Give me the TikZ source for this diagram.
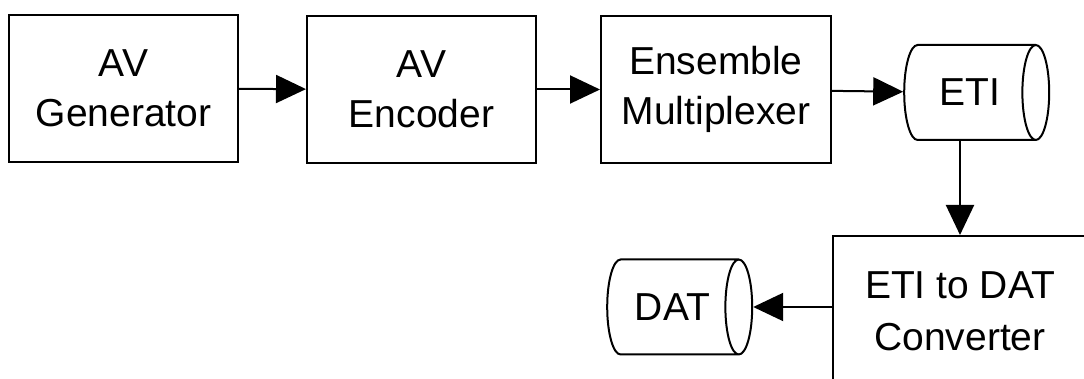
\documentclass[tikz,border=0pt]{standalone}
\usepackage{fontspec}
\setmainfont{Liberation Sans}
\usetikzlibrary{shapes.geometric,arrows.meta,positioning}

\begin{document}
\begin{tikzpicture}[x=0.5pt,y=-0.5pt,
    block/.style={draw, line width=1pt, minimum width=114.5pt, minimum height=73.5pt,
      inner sep=0pt, align=center, font=\fontsize{19.5}{25}\selectfont},
    tape/.style={draw, line width=1pt, cylinder, shape aspect=1,
      minimum height=72.5pt, minimum width=47.5pt, inner sep=0pt,
      font=\fontsize{19.5}{25}\selectfont},
    flow/.style={-{Triangle[length=15pt,width=14pt]}, line width=1pt}]
  \useasboundingbox (0,0) rectangle (1084,379);
  \clip (0,0) rectangle (1084,379);
  % top row
  \node[block] (gen) at (123.5,88.5) {AV\\Generator};
  \node[block] (enc) at (421.5,89.5) {AV\\Encoder};
  \node[block, minimum width=115pt] (mux) at (716,89.5) {Ensemble\\Multiplexer};
  \node[tape] (eti) at (969.5,92.5) {ETI};
  % bottom row
  \node[block, minimum width=127pt, minimum height=75pt] (conv) at (960,311) {ETI to DAT\\[1pt]Converter};
  \node[tape] (dat) at (672.5,307) {DAT};
  \draw[flow] (gen) -- (enc);
  \draw[flow] (enc) -- (mux);
  \draw[flow] (mux) -- (eti);
  \draw[flow] (eti.south -| conv.north) -- (conv.north);
  \draw[flow] (conv.west |- dat.east) -- (dat.east);
\end{tikzpicture}
\end{document}
